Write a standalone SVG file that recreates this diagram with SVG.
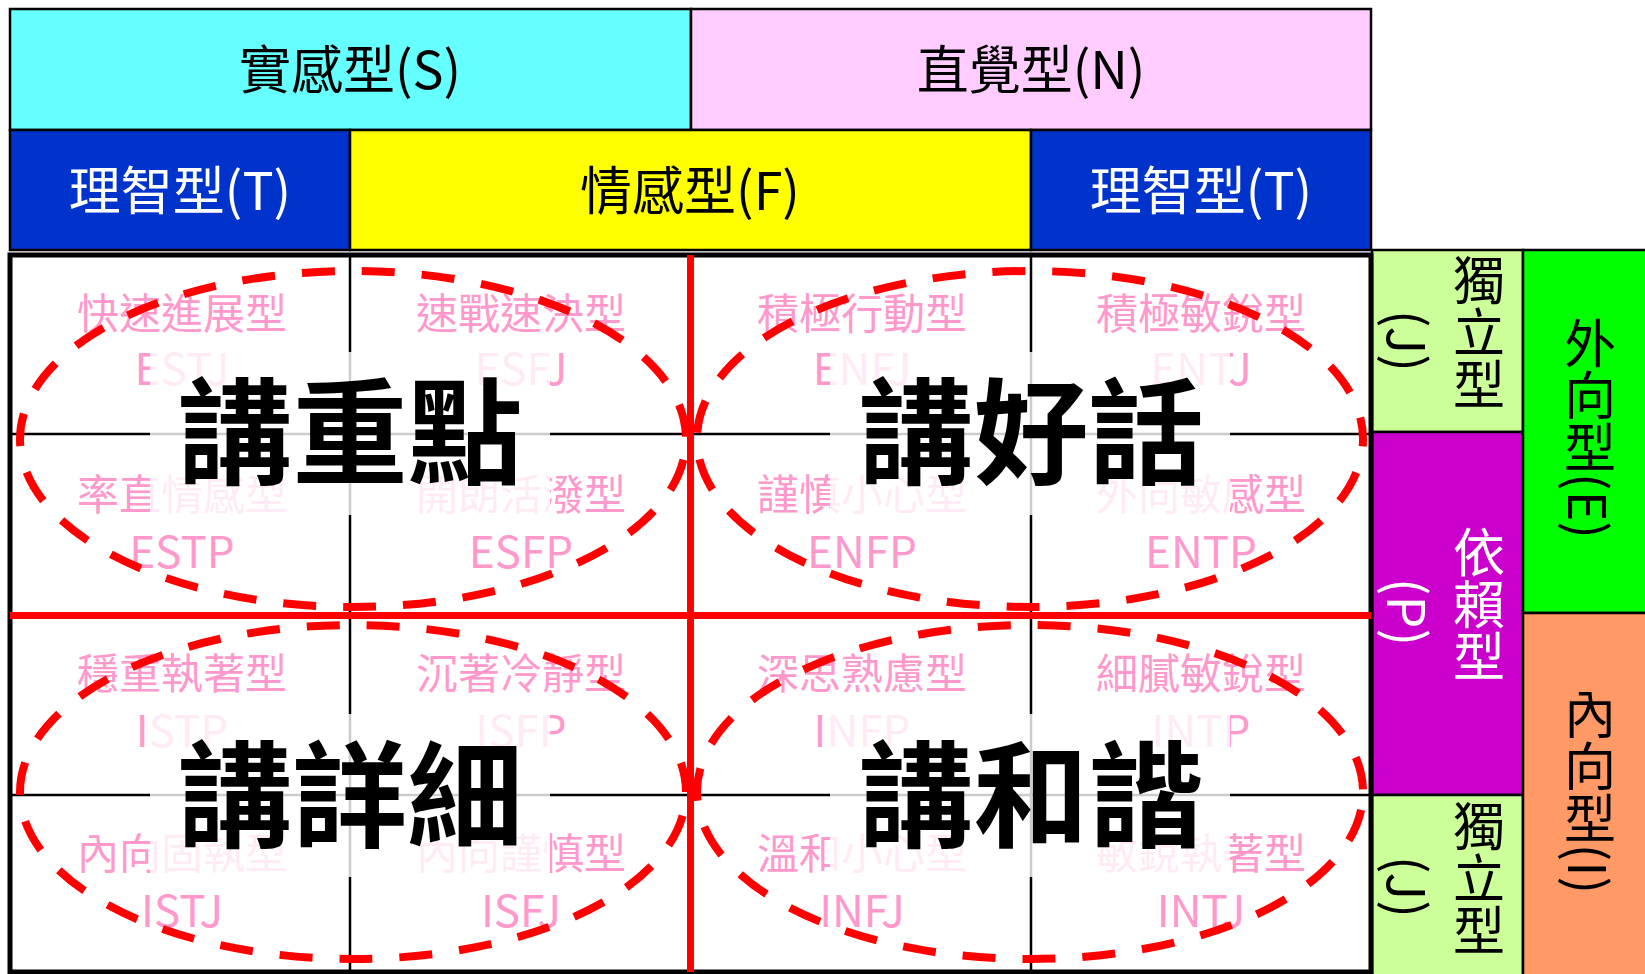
<svg xmlns="http://www.w3.org/2000/svg" width="1645" height="974" viewBox="0 0 1645 974">
<style>
text { font-family: 'Noto Sans CJK TC', 'Noto Sans CJK SC', sans-serif; text-anchor: middle; }
.box { stroke: #000; stroke-width: 2.5; }
.lbl { font-size: 52px; fill: #000; }
.wh { fill: #fff; }
.vt { font-size: 52px; writing-mode: vertical-rl; }
.pk { font-size: 42px; fill: #FF99CC; }
.pkl { font-size: 44px; fill: #FF99CC; }
.big { font-size: 115px; font-weight: 700; fill: #000; }
.gl { stroke: #000; stroke-width: 2.5; fill: none; }
.veil { fill: #fff; fill-opacity: 0.8; }
.red { stroke: #FF0000; stroke-width: 7; fill: none; }
.ell { fill: none; stroke: #FF0000; stroke-width: 8; stroke-dasharray: 33 27; }
</style>
<rect x="0" y="0" width="1645" height="974" fill="#fff"/>

<g id="band-S"><rect class="box" x="10" y="9" width="681" height="121" fill="#66FFFF"/><text class="lbl" x="350" y="89">實感型(S)</text></g>
<g id="band-N"><rect class="box" x="691" y="9" width="680" height="121" fill="#FFCCFF"/><text class="lbl" x="1031" y="89">直覺型(N)</text></g>
<g id="band-T1"><rect class="box" x="10" y="130" width="340" height="120" fill="#0033CC"/><text class="lbl wh" x="180" y="210">理智型(T)</text></g>
<g id="band-F"><rect class="box" x="350" y="130" width="681" height="120" fill="#FFFF00"/><text class="lbl" x="690" y="210">情感型(F)</text></g>
<g id="band-T2"><rect class="box" x="1031" y="130" width="340" height="120" fill="#0033CC"/><text class="lbl wh" x="1201" y="210">理智型(T)</text></g>

<g id="side-J1"><rect class="box" x="1372" y="250" width="151" height="182" fill="#CCFF99"/><text class="vt" x="1479" y="332">獨立型</text><text class="vt" x="1409" y="341">(J)</text></g>
<g id="side-P"><rect class="box" x="1372" y="432" width="151" height="363" fill="#CC00CC"/><text class="vt wh" x="1479" y="604">依賴型</text><text class="vt wh" x="1409" y="612">(P)</text></g>
<g id="side-J2"><rect class="box" x="1372" y="795" width="151" height="182" fill="#CCFF99"/><text class="vt" x="1479" y="878">獨立型</text><text class="vt" x="1409" y="887">(J)</text></g>
<g id="side-E"><rect class="box" x="1523" y="250" width="125" height="363" fill="#00FF00"/><text class="vt" x="1590" y="428">外向型(E)</text></g>
<g id="side-I"><rect class="box" x="1523" y="613" width="125" height="365" fill="#FF9966"/><text class="vt" x="1590" y="791">內向型(I)</text></g>

<g id="grid">
<rect x="10" y="255" width="1361" height="717" fill="#fff"/>
<g id="cell-ESTJ"><text class="pk" x="182" y="329">快速進展型</text><text class="pkl" x="182" y="385">ESTJ</text></g>
<g id="cell-ESFJ"><text class="pk" x="521" y="329">速戰速決型</text><text class="pkl" x="521" y="385">ESFJ</text></g>
<g id="cell-ENFJ"><text class="pk" x="862" y="329">積極行動型</text><text class="pkl" x="862" y="385">ENFJ</text></g>
<g id="cell-ENTJ"><text class="pk" x="1201" y="329">積極敏銳型</text><text class="pkl" x="1201" y="385">ENTJ</text></g>
<g id="cell-ESTP"><text class="pk" x="182" y="510">率直情感型</text><text class="pkl" x="182" y="568">ESTP</text></g>
<g id="cell-ESFP"><text class="pk" x="521" y="510">開朗活潑型</text><text class="pkl" x="521" y="568">ESFP</text></g>
<g id="cell-ENFP"><text class="pk" x="862" y="510">謹慎小心型</text><text class="pkl" x="862" y="568">ENFP</text></g>
<g id="cell-ENTP"><text class="pk" x="1201" y="510">外向敏感型</text><text class="pkl" x="1201" y="568">ENTP</text></g>
<g id="cell-ISTP"><text class="pk" x="182" y="689">穩重執著型</text><text class="pkl" x="182" y="747">ISTP</text></g>
<g id="cell-ISFP"><text class="pk" x="521" y="689">沉著冷靜型</text><text class="pkl" x="521" y="747">ISFP</text></g>
<g id="cell-INFP"><text class="pk" x="862" y="689">深思熟慮型</text><text class="pkl" x="862" y="747">INFP</text></g>
<g id="cell-INTP"><text class="pk" x="1201" y="689">細膩敏銳型</text><text class="pkl" x="1201" y="747">INTP</text></g>
<g id="cell-ISTJ"><text class="pk" x="182" y="869">內向固執型</text><text class="pkl" x="182" y="927">ISTJ</text></g>
<g id="cell-ISFJ"><text class="pk" x="521" y="869">內向謹慎型</text><text class="pkl" x="521" y="927">ISFJ</text></g>
<g id="cell-INFJ"><text class="pk" x="862" y="869">溫和小心型</text><text class="pkl" x="862" y="927">INFJ</text></g>
<g id="cell-INTJ"><text class="pk" x="1201" y="869">敏銳執著型</text><text class="pkl" x="1201" y="927">INTJ</text></g>
<path class="gl" d="M350 255V972M690 255V972M1031 255V972M10 434H1371M10 615H1371M10 795H1371"/>
<rect class="veil" x="150" y="352" width="400" height="163"/>
<rect class="veil" x="830" y="352" width="400" height="163"/>
<rect class="veil" x="150" y="714" width="400" height="163"/>
<rect class="veil" x="830" y="714" width="400" height="163"/>
<rect x="10" y="255" width="1361" height="717" fill="none" stroke="#000" stroke-width="5"/>
</g>

<g id="connectors">
<path class="red" d="M690.5 255V972M10 615.5H1371"/>
<ellipse class="ell" cx="353" cy="439" rx="333" ry="168" stroke-dashoffset="39"/>
<ellipse class="ell" cx="1030" cy="439" rx="333" ry="168" stroke-dashoffset="25.5"/>
<ellipse class="ell" cx="353" cy="792" rx="333" ry="167" stroke-dashoffset="36"/>
<ellipse class="ell" cx="1030" cy="792" rx="333" ry="167" stroke-dashoffset="42"/>
</g>

<g id="quad-ES"><text class="big" x="350" y="475">講重點</text></g>
<g id="quad-EN"><text class="big" x="1031" y="475">講好話</text></g>
<g id="quad-IS"><text class="big" x="350" y="838">講詳細</text></g>
<g id="quad-IN"><text class="big" x="1031" y="838">講和諧</text></g>
</svg>
